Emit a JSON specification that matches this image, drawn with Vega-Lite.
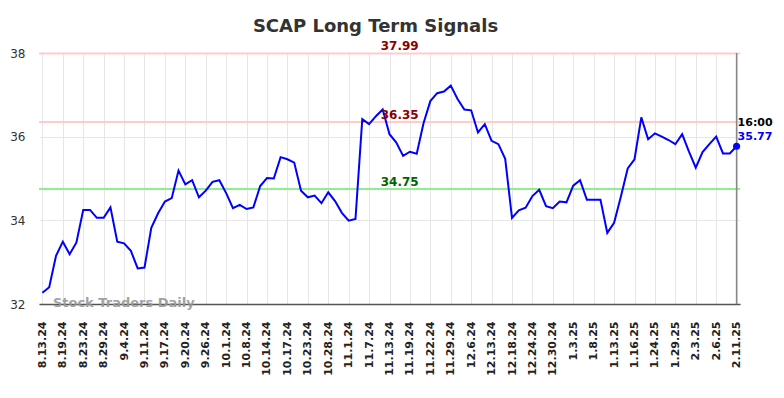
{
  "$schema": "https://vega.github.io/schema/vega-lite/v6.json",
  "autosize": "none",
  "width": 701,
  "height": 251,
  "padding": {"left": 39, "right": 44, "top": 53, "bottom": 94},
  "background": "white",
  "title": {"text": "SCAP Long Term Signals", "font": "DejaVu Sans", "fontSize": 18, "fontWeight": "bold", "color": "#333333", "anchor": "middle", "frame": "group", "dx": -14, "offset": 4},
  "config": {"view": {"stroke": null}},
  "datasets": {
    "prices": [
      {"i": 0, "d": "8.13.24", "v": 32.27}, {"i": 1, "d": "8.14.24", "v": 32.40}, {"i": 2, "d": "8.16.24", "v": 33.15},
      {"i": 3, "d": "8.19.24", "v": 33.49}, {"i": 4, "d": "8.20.24", "v": 33.19}, {"i": 5, "d": "8.22.24", "v": 33.47},
      {"i": 6, "d": "8.23.24", "v": 34.25}, {"i": 7, "d": "8.26.24", "v": 34.25}, {"i": 8, "d": "8.27.24", "v": 34.06},
      {"i": 9, "d": "8.29.24", "v": 34.06}, {"i": 10, "d": "8.30.24", "v": 34.31}, {"i": 11, "d": "9.3.24", "v": 33.49},
      {"i": 12, "d": "9.4.24", "v": 33.45}, {"i": 13, "d": "9.6.24", "v": 33.27}, {"i": 14, "d": "9.9.24", "v": 32.85},
      {"i": 15, "d": "9.11.24", "v": 32.87}, {"i": 16, "d": "9.12.24", "v": 33.82}, {"i": 17, "d": "9.16.24", "v": 34.17},
      {"i": 18, "d": "9.17.24", "v": 34.45}, {"i": 19, "d": "9.18.24", "v": 34.53}, {"i": 20, "d": "9.19.24", "v": 35.19},
      {"i": 21, "d": "9.20.24", "v": 34.86}, {"i": 22, "d": "9.23.24", "v": 34.96}, {"i": 23, "d": "9.24.24", "v": 34.55},
      {"i": 24, "d": "9.26.24", "v": 34.71}, {"i": 25, "d": "9.27.24", "v": 34.92}, {"i": 26, "d": "9.30.24", "v": 34.96},
      {"i": 27, "d": "10.1.24", "v": 34.65}, {"i": 28, "d": "10.3.24", "v": 34.29}, {"i": 29, "d": "10.7.24", "v": 34.37},
      {"i": 30, "d": "10.8.24", "v": 34.27}, {"i": 31, "d": "10.10.24", "v": 34.31}, {"i": 32, "d": "10.11.24", "v": 34.82},
      {"i": 33, "d": "10.14.24", "v": 35.01}, {"i": 34, "d": "10.15.24", "v": 35.00}, {"i": 35, "d": "10.16.24", "v": 35.51},
      {"i": 36, "d": "10.17.24", "v": 35.46}, {"i": 37, "d": "10.21.24", "v": 35.38}, {"i": 38, "d": "10.22.24", "v": 34.71},
      {"i": 39, "d": "10.23.24", "v": 34.55}, {"i": 40, "d": "10.24.24", "v": 34.59}, {"i": 41, "d": "10.25.24", "v": 34.41},
      {"i": 42, "d": "10.28.24", "v": 34.67}, {"i": 43, "d": "10.30.24", "v": 34.46}, {"i": 44, "d": "10.31.24", "v": 34.18},
      {"i": 45, "d": "11.1.24", "v": 33.99}, {"i": 46, "d": "11.5.24", "v": 34.03}, {"i": 47, "d": "11.6.24", "v": 36.42},
      {"i": 48, "d": "11.7.24", "v": 36.30}, {"i": 49, "d": "11.11.24", "v": 36.49}, {"i": 50, "d": "11.12.24", "v": 36.65},
      {"i": 51, "d": "11.13.24", "v": 36.06}, {"i": 52, "d": "11.14.24", "v": 35.86}, {"i": 53, "d": "11.18.24", "v": 35.54},
      {"i": 54, "d": "11.19.24", "v": 35.64}, {"i": 55, "d": "11.20.24", "v": 35.59}, {"i": 56, "d": "11.21.24", "v": 36.32},
      {"i": 57, "d": "11.22.24", "v": 36.85}, {"i": 58, "d": "11.25.24", "v": 37.04}, {"i": 59, "d": "11.26.24", "v": 37.08},
      {"i": 60, "d": "11.29.24", "v": 37.22}, {"i": 61, "d": "12.3.24", "v": 36.90}, {"i": 62, "d": "12.4.24", "v": 36.65},
      {"i": 63, "d": "12.6.24", "v": 36.63}, {"i": 64, "d": "12.9.24", "v": 36.10}, {"i": 65, "d": "12.11.24", "v": 36.30},
      {"i": 66, "d": "12.13.24", "v": 35.90}, {"i": 67, "d": "12.16.24", "v": 35.82}, {"i": 68, "d": "12.17.24", "v": 35.47},
      {"i": 69, "d": "12.18.24", "v": 34.06}, {"i": 70, "d": "12.19.24", "v": 34.24}, {"i": 71, "d": "12.20.24", "v": 34.30},
      {"i": 72, "d": "12.24.24", "v": 34.58}, {"i": 73, "d": "12.26.24", "v": 34.73}, {"i": 74, "d": "12.27.24", "v": 34.34},
      {"i": 75, "d": "12.30.24", "v": 34.29}, {"i": 76, "d": "12.31.24", "v": 34.45}, {"i": 77, "d": "1.2.25", "v": 34.43},
      {"i": 78, "d": "1.3.25", "v": 34.83}, {"i": 79, "d": "1.6.25", "v": 34.96}, {"i": 80, "d": "1.7.25", "v": 34.49},
      {"i": 81, "d": "1.8.25", "v": 34.49}, {"i": 82, "d": "1.9.25", "v": 34.49}, {"i": 83, "d": "1.10.25", "v": 33.70},
      {"i": 84, "d": "1.13.25", "v": 33.94}, {"i": 85, "d": "1.14.25", "v": 34.57}, {"i": 86, "d": "1.15.25", "v": 35.24},
      {"i": 87, "d": "1.16.25", "v": 35.46}, {"i": 88, "d": "1.21.25", "v": 36.46}, {"i": 89, "d": "1.22.25", "v": 35.94},
      {"i": 90, "d": "1.24.25", "v": 36.08}, {"i": 91, "d": "1.27.25", "v": 36.00}, {"i": 92, "d": "1.28.25", "v": 35.92},
      {"i": 93, "d": "1.29.25", "v": 35.82}, {"i": 94, "d": "1.30.25", "v": 36.06}, {"i": 95, "d": "1.31.25", "v": 35.64},
      {"i": 96, "d": "2.3.25", "v": 35.26}, {"i": 97, "d": "2.4.25", "v": 35.63}, {"i": 98, "d": "2.5.25", "v": 35.82},
      {"i": 99, "d": "2.6.25", "v": 36.00}, {"i": 100, "d": "2.7.25", "v": 35.60}, {"i": 101, "d": "2.10.25", "v": 35.60},
      {"i": 102, "d": "2.11.25", "v": 35.77}
    ],
    "levels": [
      {"level": 37.99, "kind": "resistance", "mid": 52.5},
      {"level": 36.35, "kind": "resistance", "mid": 52.5},
      {"level": 34.75, "kind": "support", "mid": 52.5}
    ],
    "last": [{"i": 102, "d": "2.11.25", "v": 35.77, "time": "16:00"}],
    "brand": [{"i": 0, "v": 32, "name": "Stock Traders Daily"}]
  },
  "encoding": {
    "x": {
      "field": "i", "type": "quantitative",
      "scale": {"domain": [-0.5, 102.5], "nice": false, "zero": false},
      "axis": {
        "title": null,
        "values": [0, 3, 6, 9, 12, 15, 18, 21, 24, 27, 30, 33, 36, 39, 42, 45, 48, 51, 54, 57, 60, 63, 66, 69, 72, 75, 78, 81, 84, 87, 90, 93, 96, 99, 102],
        "labelExpr": "['8.13.24','8.19.24','8.23.24','8.29.24','9.4.24','9.11.24','9.17.24','9.20.24','9.26.24','10.1.24','10.8.24','10.14.24','10.17.24','10.23.24','10.28.24','11.1.24','11.7.24','11.13.24','11.19.24','11.22.24','11.29.24','12.6.24','12.13.24','12.18.24','12.24.24','12.30.24','1.3.25','1.8.25','1.13.25','1.16.25','1.24.25','1.29.25','2.3.25','2.6.25','2.11.25'][round(datum.value/3)]",
        "labelAngle": -90, "labelAlign": "right", "labelBaseline": "middle",
        "labelFont": "DejaVu Sans", "labelFontSize": 11, "labelFontWeight": "bold", "labelColor": "#222222",
        "labelPadding": 17, "labelOverlap": false, "labelFlush": false,
        "ticks": false, "domain": true, "domainColor": "#555555", "domainWidth": 1.5,
        "grid": true, "gridColor": "#e6e6e6", "gridWidth": 1
      }
    },
    "y": {"type": "quantitative", "scale": {"domain": [32, 38], "nice": false, "zero": false},
      "axis": {"title": null, "values": [32, 34, 36, 38], "labelFont": "DejaVu Sans", "labelFontSize": 12, "labelColor": "#333333", "labelPadding": 14, "ticks": false, "domain": false, "grid": true, "gridColor": "#e6e6e6"}}
  },
  "layer": [
    {
      "data": {"name": "levels"},
      "mark": {"type": "rule", "strokeWidth": 2},
      "encoding": {
        "x": null,
        "y": {"field": "level", "type": "quantitative"},
        "color": {"condition": {"test": "datum.kind === 'support'", "value": "#90ee90"}, "value": "#ffcccc"}
      }
    },
    {
      "data": {"name": "last"},
      "mark": {"type": "rule", "color": "#888888", "strokeWidth": 1.5},
      "encoding": {"y": null}
    },
    {
      "data": {"name": "prices"},
      "mark": {"type": "line", "color": "#0000ff", "strokeWidth": 2},
      "encoding": {"y": {"field": "v", "type": "quantitative"}}
    },
    {
      "data": {"name": "last"},
      "mark": {"type": "point", "filled": true, "color": "#0000ff", "size": 50, "opacity": 1},
      "encoding": {"y": {"field": "v", "type": "quantitative"}}
    },
    {
      "data": {"name": "levels"},
      "mark": {"type": "text", "font": "DejaVu Sans", "fontSize": 12, "fontWeight": "bold", "align": "center", "baseline": "alphabetic", "dy": -3},
      "encoding": {
        "x": {"field": "mid", "type": "quantitative"},
        "y": {"field": "level", "type": "quantitative"},
        "text": {"field": "level", "type": "quantitative", "format": ".2f"},
        "color": {"condition": {"test": "datum.kind === 'support'", "value": "#006400"}, "value": "#8b0000"}
      }
    },
    {
      "data": {"name": "last"},
      "mark": {"type": "text", "font": "DejaVu Sans", "fontSize": 11, "fontWeight": "bold", "align": "left", "baseline": "alphabetic", "dx": 1, "dy": -20, "color": "#000000"},
      "encoding": {"y": {"field": "v", "type": "quantitative"}, "text": {"field": "time"}}
    },
    {
      "data": {"name": "last"},
      "mark": {"type": "text", "font": "DejaVu Sans", "fontSize": 11, "fontWeight": "bold", "align": "left", "baseline": "alphabetic", "dx": 1, "dy": -6, "color": "#0000ff"},
      "encoding": {"y": {"field": "v", "type": "quantitative"}, "text": {"field": "v", "type": "quantitative", "format": ".2f"}}
    },
    {
      "data": {"name": "brand"},
      "mark": {"type": "text", "font": "DejaVu Sans", "fontSize": 13, "fontWeight": "bold", "align": "left", "baseline": "alphabetic", "dx": 10.5, "dy": 2.5, "color": "#999999", "opacity": 0.9},
      "encoding": {"y": {"field": "v", "type": "quantitative"}, "text": {"field": "name"}}
    }
  ]
}
